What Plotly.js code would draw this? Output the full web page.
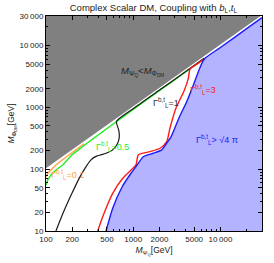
<!DOCTYPE html>
<html><head><meta charset="utf-8">
<script src="https://cdn.plot.ly/plotly-3.0.1.min.js"></script>
<style>html,body{margin:0;padding:0;background:#fff}#c{width:274px;height:263px}</style>
</head><body><div id="c"></div>
<script>
// Axis ticks
const xTicks = [100, 200, 500, 1000, 2000, 5000, 10000, 30000];
const xTickText = ['100', '200', '500', '1000', '2000', '5000', '10\u2009000', '30\u2009000'];
const yTicks = [10, 20, 50, 100, 200, 500, 1000, 2000, 5000, 10000, 30000];
const yTickText = ['10', '20', '50', '100', '200', '500', '1000', '2000', '5000', '10\u2009000', '30\u2009000'];
const xMinor = [300, 400, 600, 700, 800, 900, 3000, 4000, 6000, 7000, 8000, 9000, 20000];
const yMinor = [30, 40, 60, 70, 80, 90, 300, 400, 600, 700, 800, 900, 3000, 4000, 6000, 7000, 8000, 9000, 20000];

// Excluded region M_Q < M_DM (diagonal)
const grayX = [100, 30000, 100];
const grayY = [100, 30000, 30000];
const diagX = [100, 30000];
const diagY = [100, 30000];

// Gamma > sqrt(4 pi) boundary (blue)
const blueX = [488, 582, 745, 944, 1077, 1306, 1701, 2125, 2424, 2711, 3350, 4140, 4850, 5690, 6500, 10000, 20000, 30000];
const blueY = [10, 23.3, 51.5, 85.9, 110, 159, 181, 205, 263, 332, 673, 1270, 2217, 4026, 6000, 9300, 18700, 28200];
// Gamma = 3 (red)
const redX = [392, 447, 582, 759, 944, 1077, 1144, 1560, 2029, 2422, 2643, 3097, 3830, 4304, 4478, 5500, 6500];
const redY = [10, 17, 40.7, 71.3, 97, 117, 170, 192, 218, 279, 464, 977, 1841, 2991, 4150, 5100, 6050];
// Gamma = 1 (black)
const blackX = [130, 157, 199, 245, 287, 328, 374, 488, 582, 664, 693, 682, 643, 1000, 2000, 4000, 6500];
const blackY = [10, 19.5, 41, 75, 109, 141, 161, 181, 205, 263, 336, 431, 590, 950, 1900, 3800, 6200];
// Gamma = 0.5 (green)
const greenX = [100, 104.6, 114, 130, 155.5, 200, 300, 500, 1000, 3000, 6500];
const greenY = [55.5, 66.8, 80.5, 97, 117, 172, 268, 455, 925, 2800, 6100];
// Gamma = 0.1 (orange)
const orangeX = [100, 104.6, 114, 130, 160, 200, 273];
const orangeY = [75.7, 86, 97, 117, 147, 188, 258];

const traces = [
  {x: blueX.concat([30000]), y: blueY.concat([10]), fill: 'toself', fillcolor: '#b3b3ff', mode: 'lines', line: {width: 0}, hoverinfo: 'skip'},
  {x: grayX, y: grayY, fill: 'toself', fillcolor: '#808080', mode: 'lines', line: {width: 0}, hoverinfo: 'skip'},
  {x: diagX, y: diagY, mode: 'lines', line: {color: '#ffffff', width: 1.6}},
  {x: orangeX, y: orangeY, mode: 'lines', line: {color: '#ffa040', width: 1.4}},
  {x: greenX, y: greenY, mode: 'lines', line: {color: '#22ee22', width: 1.4}},
  {x: blackX, y: blackY, mode: 'lines', line: {color: '#1a1a1a', width: 1.2, shape: 'spline', smoothing: 0.6}},
  {x: redX, y: redY, mode: 'lines', line: {color: '#ff1a1a', width: 1.4, shape: 'spline', smoothing: 0.6}},
  {x: blueX, y: blueY, mode: 'lines', line: {color: '#1a1aff', width: 1.4, shape: 'spline', smoothing: 0.6}}
];

const F = 'Liberation Sans, Arial, sans-serif';
const G = 'Γ<sup>b,t</sup><sub>L</sub>';
function ann(text, lx, ly, color, size) {
  return {text: text, x: lx, y: ly, xref: 'x', yref: 'y', showarrow: false, font: {family: F, size: size || 9, color: color}};
}
const layout = {
  width: 274, height: 263,
  margin: {l: 46, r: 12, t: 16, b: 32},
  paper_bgcolor: '#fff', plot_bgcolor: '#fff',
  showlegend: false,
  title: {text: 'Complex Scalar DM, Coupling with <i>b</i><sub>L</sub>,<i>t</i><sub>L</sub>', font: {family: F, size: 9.5, color: '#222'}, x: 0.56, xanchor: 'center', y: 0.985, yanchor: 'top'},
  xaxis: {type: 'log', range: [2, Math.log10(30000)], tickvals: xTicks, ticktext: xTickText,
    ticks: 'inside', ticklen: 4, tickcolor: '#000', mirror: 'ticks', showline: true, linecolor: '#000', linewidth: 1,
    showgrid: false, zeroline: false, tickfont: {family: F, size: 8, color: '#222'},
    minor: {tickvals: xMinor, ticks: 'inside', ticklen: 2, tickcolor: '#000', showgrid: false},
    title: {text: '<i>M</i><sub>Ψ<sub>Q</sub></sub>[GeV]', font: {family: F, size: 8.5, color: '#222'}, standoff: 4}},
  yaxis: {type: 'log', range: [1, Math.log10(30000)], tickvals: yTicks, ticktext: yTickText,
    ticks: 'inside', ticklen: 4, tickcolor: '#000', mirror: 'ticks', showline: true, linecolor: '#000', linewidth: 1,
    showgrid: false, zeroline: false, tickfont: {family: F, size: 8, color: '#222'},
    minor: {tickvals: yMinor, ticks: 'inside', ticklen: 2, tickcolor: '#000', showgrid: false},
    title: {text: '<i>M</i><sub>Φ<sub>DM</sub></sub>[GeV]', font: {family: F, size: 8.5, color: '#222'}, standoff: 3}},
  annotations: [
    ann('<i>M</i><sub>Ψ<sub>Q</sub></sub>&lt;<i>M</i><sub>Φ<sub>DM</sub></sub>', 3.112, 3.573, '#222', 9.5),
    ann(G + '=1', 3.376, 3.071, '#333'),
    ann(G + '=3', 3.800, 3.282, '#ff2020'),
    ann(G + '=0.5', 2.757, 2.359, '#22ee22'),
    ann(G + '=0.1', 2.241, 1.906, '#ffa040'),
    ann(G + '&gt; √4 π', 3.961, 2.472, '#2020ff')
  ]
};
Plotly.newPlot('c', traces, layout, {staticPlot: true, displayModeBar: false});
</script></body></html>
